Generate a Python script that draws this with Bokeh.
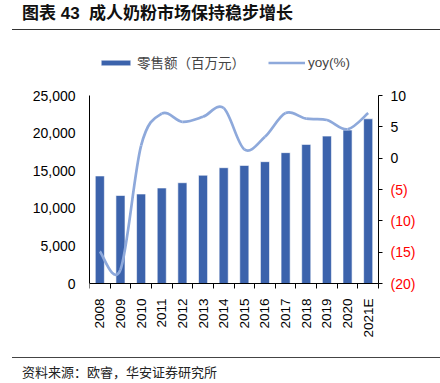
import numpy as np
from bokeh.plotting import figure
from bokeh.models import (Range1d, LinearAxis, FixedTicker, NumeralTickFormatter,
                          CustomJSTickFormatter, Legend, LegendItem, Label,
                          ColumnDataSource, Div)
from bokeh.layouts import column
from bokeh.embed import file_html
from bokeh.resources import INLINE

# ---- data ----
years = ["2008", "2009", "2010", "2011", "2012", "2013", "2014", "2015",
         "2016", "2017", "2018", "2019", "2020", "2021E"]
sales = [14300, 11700, 11900, 12700, 13400, 14400, 15400, 15700,
         16200, 17400, 18500, 19600, 20400, 21900]
yoy = [-14.9, -17.8, 2.0, 7.1, 5.8, 6.6, 8.0, 1.4, 3.4, 7.2, 6.3, 6.1, 4.6, 7.2]
left_ticks = [0, 5000, 10000, 15000, 20000, 25000]
right_ticks = [-20, -15, -10, -5, 0, 5, 10]
left_lim = (0, 25000)
right_lim = (-20, 10)

BAR = "#3C63AC"
LINE = "#8EA9DB"
FONT = "Liberation Sans, Noto Sans CJK SC"

n = len(years)
xs = np.arange(n)

# layout geometry (pixels, figure coords from top-left). The frame is
# extended beyond the visible chart area so that legend and labels sit
# inside it; axes are limited with bounds / fixed_location.
W, H = 440, 319
BL, BT = 89, 10
FW, FH = W - BL, H - BT
PT, PB = 64, 252                    # top / bottom of the chart area
PLOT_W, PLOT_H = 289, PB - PT
x_end = -0.5 + FW * n / PLOT_W


def span(lim):
    k = (lim[1] - lim[0]) / PLOT_H
    return lim[0] - (H - PB) * k, lim[1] + (PT - BT) * k


p = figure(width=W, height=H, output_backend="svg", toolbar_location=None,
           x_range=Range1d(-0.5, x_end), y_range=Range1d(*span(left_lim)),
           min_border_left=BL, min_border_right=0, min_border_top=BT,
           min_border_bottom=0, margin=0)
p.outline_line_color = None
p.grid.grid_line_color = None
p.background_fill_color = "white"
p.border_fill_color = "white"
p.extra_y_ranges = {"yoy": Range1d(*span(right_lim))}

bars = p.vbar(x=xs, top=sales, width=0.44, fill_color=BAR, line_color="white",
              line_width=0.6)

# smooth (Excel-like) curve through yoy points using cubic Bezier segments
ye = [yoy[0]] + yoy + [yoy[-1]]
xe = [xs[0]] + list(xs) + [xs[-1]]
src = dict(x0=[], y0=[], x1=[], y1=[], cx0=[], cy0=[], cx1=[], cy1=[])
for i in range(n - 1):
    j = i + 1
    src["x0"].append(xe[j]); src["y0"].append(ye[j])
    src["x1"].append(xe[j + 1]); src["y1"].append(ye[j + 1])
    src["cx0"].append(xe[j] + (xe[j + 1] - xe[j - 1]) / 6)
    src["cy0"].append(ye[j] + (ye[j + 1] - ye[j - 1]) / 6)
    src["cx1"].append(xe[j + 1] - (xe[j + 2] - xe[j]) / 6)
    src["cy1"].append(ye[j + 1] - (ye[j + 2] - ye[j]) / 6)
curve = p.bezier(x0="x0", y0="y0", x1="x1", y1="y1", cx0="cx0", cy0="cy0",
                 cx1="cx1", cy1="cy1", source=ColumnDataSource(src),
                 line_color=LINE, line_width=2.7, y_range_name="yoy")

# x axis (placed at value 0 of the left scale)
xa = p.xaxis[0]
xa.fixed_location = left_lim[0]
xa.bounds = (-0.5, n - 0.5)
xa.ticker = FixedTicker(ticks=list(range(n)), minor_ticks=[i - 0.5 for i in range(n + 1)])
xa.major_label_overrides = {i: years[i] for i in range(n)}
xa.major_label_orientation = np.pi / 2
xa.major_tick_out = 0
xa.major_tick_in = 0
xa.minor_tick_out = 5
xa.minor_tick_in = 0
xa.minor_tick_line_color = "black"
xa.axis_line_color = "black"
xa.major_label_standoff = 10
xa.major_label_text_font = FONT
xa.major_label_text_font_size = "13.5px"
xa.major_label_text_color = "black"

# left axis
ya = p.yaxis[0]
ya.bounds = left_lim
ya.ticker = FixedTicker(ticks=left_ticks)
ya.formatter = NumeralTickFormatter(format="0,0")
ya.major_tick_out = 0
ya.major_tick_in = 0
ya.minor_tick_line_color = None
ya.axis_line_color = "black"
ya.major_label_standoff = 14
ya.major_label_text_font = FONT
ya.major_label_text_font_size = "14px"
ya.major_label_text_color = "black"

# right axis at the end of the categories
ra = LinearAxis(y_range_name="yoy", ticker=FixedTicker(ticks=right_ticks),
                bounds=right_lim, fixed_location=n - 0.5)
ra.formatter = CustomJSTickFormatter(code="return tick < 0 ? '' : String(tick);")
ra.major_tick_out = 4
ra.major_tick_in = 0
ra.minor_tick_line_color = None
ra.axis_line_color = "black"
ra.major_label_standoff = 8
ra.major_label_text_font = FONT
ra.major_label_text_font_size = "14px"
ra.major_label_text_color = "black"
p.add_layout(ra, "right")

# negative yoy tick labels in red, bracketed
for t in right_ticks:
    if t < 0:
        p.add_layout(Label(x=n - 0.5, y=t, y_range_name="yoy", x_offset=12,
                           text="(%d)" % (-t), text_color="red",
                           text_font=FONT, text_font_size="14px",
                           text_baseline="middle", text_align="left"))

legend = Legend(items=[LegendItem(label="零售额（百万元）", renderers=[bars]),
                       LegendItem(label="yoy(%)", renderers=[curve])],
                location=(8, H - 25 - 16), orientation="horizontal",
                border_line_color=None, background_fill_alpha=0,
                padding=0, margin=0, spacing=23, label_standoff=3,
                glyph_width=37, glyph_height=7, label_height=16,
                label_text_font=FONT, label_text_font_size="13.5px")
p.add_layout(legend)

title_div = Div(text=(
    '<div style="margin-left:12px;width:428px;height:30px;border-bottom:1.5px solid #333;'
    'font-family:\'Liberation Sans\',\'Noto Sans CJK SC\';font-weight:bold;font-size:17px;'
    'line-height:20px;padding-top:4px;padding-left:10px;box-sizing:border-box;color:#111;">'
    '图表 43&nbsp;&nbsp;成人奶粉市场保持稳步增长</div>'), width=440, height=31, margin=0)

footer_div = Div(text=(
    '<div style="margin-left:12px;margin-top:7px;width:428px;border-top:1px solid #444;'
    'font-family:\'Noto Sans CJK SC\';font-size:13px;line-height:16px;padding-top:6px;'
    'padding-left:10px;box-sizing:border-box;color:#222;">'
    '资料来源：欧睿，华安证券研究所</div>'), width=440, height=33, margin=0)

layout = column(title_div, p, footer_div, spacing=0, margin=0)
open("out.html", "w").write(file_html(layout, INLINE))
